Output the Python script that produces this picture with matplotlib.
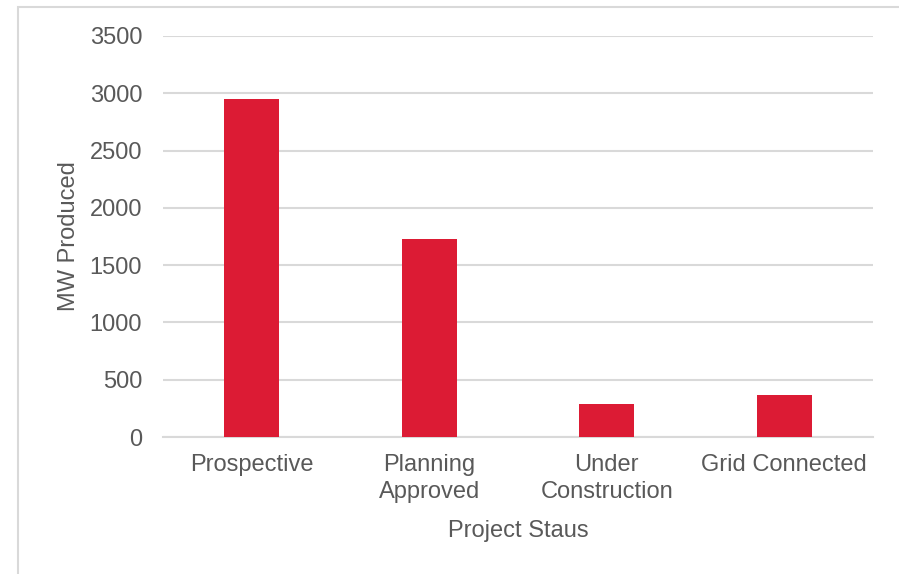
import matplotlib
matplotlib.use("Agg")
import matplotlib.pyplot as plt
from matplotlib.patches import Rectangle

categories = ["Prospective", "Planning\nApproved", "Under\nConstruction", "Grid Connected"]
values = [2950, 1725, 290, 365]
yticks = [0, 500, 1000, 1500, 2000, 2500, 3000, 3500]

TEXT = "#595959"
GRID = "#d9d9d9"
BAR = "#DC1B34"

plt.rcParams["font.family"] = ["Liberation Sans", "DejaVu Sans"]
plt.rcParams["font.size"] = 17

fig = plt.figure(figsize=(8.99, 5.74), dpi=100)
ax = fig.add_axes([163/899, 1-437/574, 710/899, 401/574])

x = list(range(len(categories)))
ax.bar(x, values, width=0.31, color=BAR, zorder=3)

ax.set_xlim(-0.5, len(categories)-0.5)
ax.set_ylim(0, 3500)
ax.set_yticks(yticks)
ax.set_yticklabels([str(v) for v in yticks])
ax.set_xticks(x)
ax.set_xticklabels(categories, linespacing=1.3)
ax.yaxis.grid(True, color=GRID, linewidth=1.5, zorder=0)
ax.set_axisbelow(True)
for s in ["top", "right", "left"]:
    ax.spines[s].set_visible(False)
ax.spines["bottom"].set_color(GRID)
ax.spines["bottom"].set_linewidth(1.5)
ax.tick_params(axis="both", length=0, colors=TEXT, labelsize=17)
ax.tick_params(axis="y", pad=15)
ax.tick_params(axis="x", pad=12)

ax.set_xlabel("Project Staus", color=TEXT, fontsize=17)
ax.xaxis.set_label_coords(0.5, -0.208)
ax.set_ylabel("MW Produced", color=TEXT, fontsize=17, va="center")
ax.yaxis.set_label_coords(-0.132, 0.5)

fig.patches.append(Rectangle((18/899, -0.1), 1.2, 1.1 - 7/574, transform=fig.transFigure,
                             fill=False, edgecolor=GRID, linewidth=1.5, zorder=0))

fig.savefig("out.png", dpi=100, facecolor="white")
